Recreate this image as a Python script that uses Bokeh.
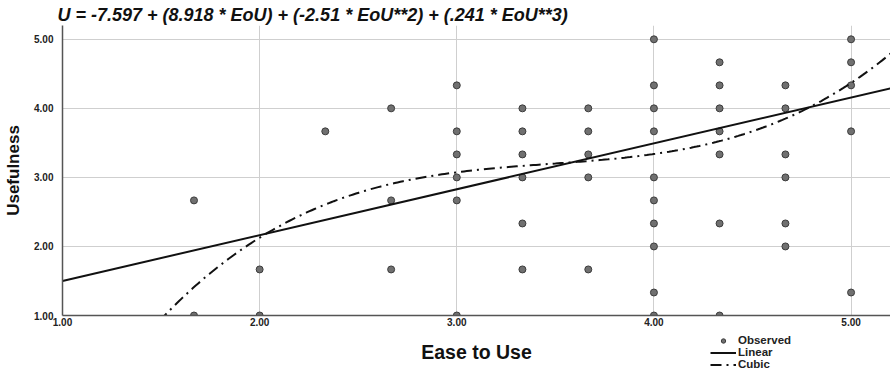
import numpy as np
from bokeh.plotting import figure
from bokeh.layouts import column
from bokeh.models import (Range1d, FixedTicker, PrintfTickFormatter, Label,
                          Legend, LegendItem)
from bokeh.embed import file_html
from bokeh.resources import INLINE

# ---- data ----
eou = [1.667, 1.667,
       2.0, 2.0,
       2.333,
       2.667, 2.667, 2.667,
       3.0, 3.0, 3.0, 3.0, 3.0, 3.0,
       3.333, 3.333, 3.333, 3.333, 3.333, 3.333,
       3.667, 3.667, 3.667, 3.667, 3.667,
       4.0, 4.0, 4.0, 4.0, 4.0, 4.0, 4.0, 4.0, 4.0, 4.0,
       4.333, 4.333, 4.333, 4.333, 4.333, 4.333, 4.333,
       4.667, 4.667, 4.667, 4.667, 4.667, 4.667,
       5.0, 5.0, 5.0, 5.0, 5.0]
usefulness = [2.667, 1.0,
              1.667, 1.0,
              3.667,
              4.0, 2.667, 1.667,
              4.333, 3.667, 3.333, 3.0, 2.667, 1.0,
              4.0, 3.667, 3.333, 3.0, 2.333, 1.667,
              4.0, 3.667, 3.333, 3.0, 1.667,
              5.0, 4.333, 4.0, 3.667, 3.0, 2.667, 2.333, 2.0, 1.333, 1.0,
              4.667, 4.333, 4.0, 3.667, 3.333, 2.333, 1.0,
              4.333, 4.0, 3.333, 3.0, 2.333, 2.0,
              5.0, 4.667, 4.333, 3.667, 1.333]

linear_x = [1.0, 5.2]
linear_y = [1.50, 4.29]

# cubic fit coefficients as printed in the title
cubic_coef = [-7.597, 8.918, -2.51, 0.241]

ticks = [1, 2, 3, 4, 5]
title_text = "U = -7.597 + (8.918 * EoU) + (-2.51 * EoU**2) + (.241 * EoU**3)"
x_label = "Ease to Use"
y_label = "Usefulness"
legend_labels = ["Observed", "Linear", "Cubic"]

cx = np.linspace(1.0, 5.2, 300)
cy = (cubic_coef[0] + cubic_coef[1] * cx + cubic_coef[2] * cx**2
      + cubic_coef[3] * cx**3)

SANS = "Liberation Sans"
INK = "#111111"
PT_FILL = "#707070"
PT_LINE = "#3c3c3c"
DASH = "11 5 2 5"

p = figure(width=890, height=330, output_backend="svg", toolbar_location=None,
           x_range=Range1d(1.0, 5.2), y_range=Range1d(1.0, 5.2),
           min_border_left=62, min_border_right=0, min_border_top=25,
           min_border_bottom=15, background_fill_color="white",
           border_fill_color="white")
p.outline_line_color = None

p.title.text = title_text
p.title.text_font = SANS
p.title.text_font_style = "bold italic"
p.title.text_font_size = "18px"
p.title.text_color = INK
p.title.align = "left"
p.title.offset = -5
p.title.standoff = 1

for ax in (p.xaxis[0], p.yaxis[0]):
    ax.ticker = FixedTicker(ticks=ticks)
    ax.formatter = PrintfTickFormatter(format="%.2f")
    ax.major_tick_out = 0
    ax.major_tick_in = 0
    ax.minor_tick_out = 0
    ax.minor_tick_in = 0
    ax.axis_line_color = "#555555"
    ax.axis_line_width = 1.5
    ax.major_label_text_font = SANS
    ax.major_label_text_font_style = "bold"
    ax.major_label_text_font_size = "10px"
    ax.major_label_text_color = "#222222"

p.xaxis.major_label_standoff = 2
p.yaxis.major_label_standoff = 9
p.yaxis.axis_label = y_label
p.yaxis.axis_label_text_font = SANS
p.yaxis.axis_label_text_font_style = "bold"
p.yaxis.axis_label_text_font_size = "17px"
p.yaxis.axis_label_text_color = INK
p.yaxis.axis_label_standoff = 8

p.xgrid.ticker = FixedTicker(ticks=ticks)
p.ygrid.ticker = FixedTicker(ticks=ticks)
p.grid.grid_line_color = "#cfcfcf"
p.grid.grid_line_width = 1

p.scatter(eou, usefulness, size=7, fill_color=PT_FILL,
          line_color=PT_LINE, line_width=1)
p.line(linear_x, linear_y, line_color=INK, line_width=2)
p.line(cx, cy, line_color=INK, line_width=2, line_dash=DASH)

# ---- bottom strip: x-axis title and legend ----
# its ranges lie away from the data, so its renderers only feed the legend
p2 = figure(width=890, height=40, output_backend="svg", toolbar_location=None,
            x_range=Range1d(-3, -2), y_range=Range1d(-3, -2),
            x_axis_location=None, y_axis_location=None,
            min_border=0, min_border_left=62, min_border_right=0,
            background_fill_color="white", border_fill_color="white")
p2.outline_line_color = None
p2.xgrid.visible = False
p2.ygrid.visible = False

l_obs = p2.scatter(eou, usefulness, size=7, fill_color=PT_FILL,
                   line_color=PT_LINE, line_width=1)
l_lin = p2.line(linear_x, linear_y, line_color=INK, line_width=2)
l_cub = p2.line(cx, cy, line_color=INK, line_width=2, line_dash=DASH)

# screen units are measured from the frame's left edge (62 px in)
xl = Label(x=414, y=19, x_units="screen", y_units="screen", text=x_label,
           text_font=SANS, text_font_style="bold", text_font_size="19.5px",
           text_color=INK, text_align="center", text_baseline="alphabetic")
p2.add_layout(xl)

legend = Legend(items=[LegendItem(label=legend_labels[0], renderers=[l_obs]),
                       LegendItem(label=legend_labels[1], renderers=[l_lin]),
                       LegendItem(label=legend_labels[2], renderers=[l_cub])],
                location=(648, 0), orientation="vertical",
                border_line_color=None, background_fill_alpha=0,
                padding=0, margin=0, spacing=0, glyph_width=26, glyph_height=11,
                label_standoff=2, label_height=11,
                label_text_font=SANS, label_text_font_style="bold",
                label_text_font_size="11.5px", label_text_color="#222222")
p2.add_layout(legend, "center")

layout = column(p, p2, spacing=0)
open("out.html", "w").write(file_html(layout, INLINE))
